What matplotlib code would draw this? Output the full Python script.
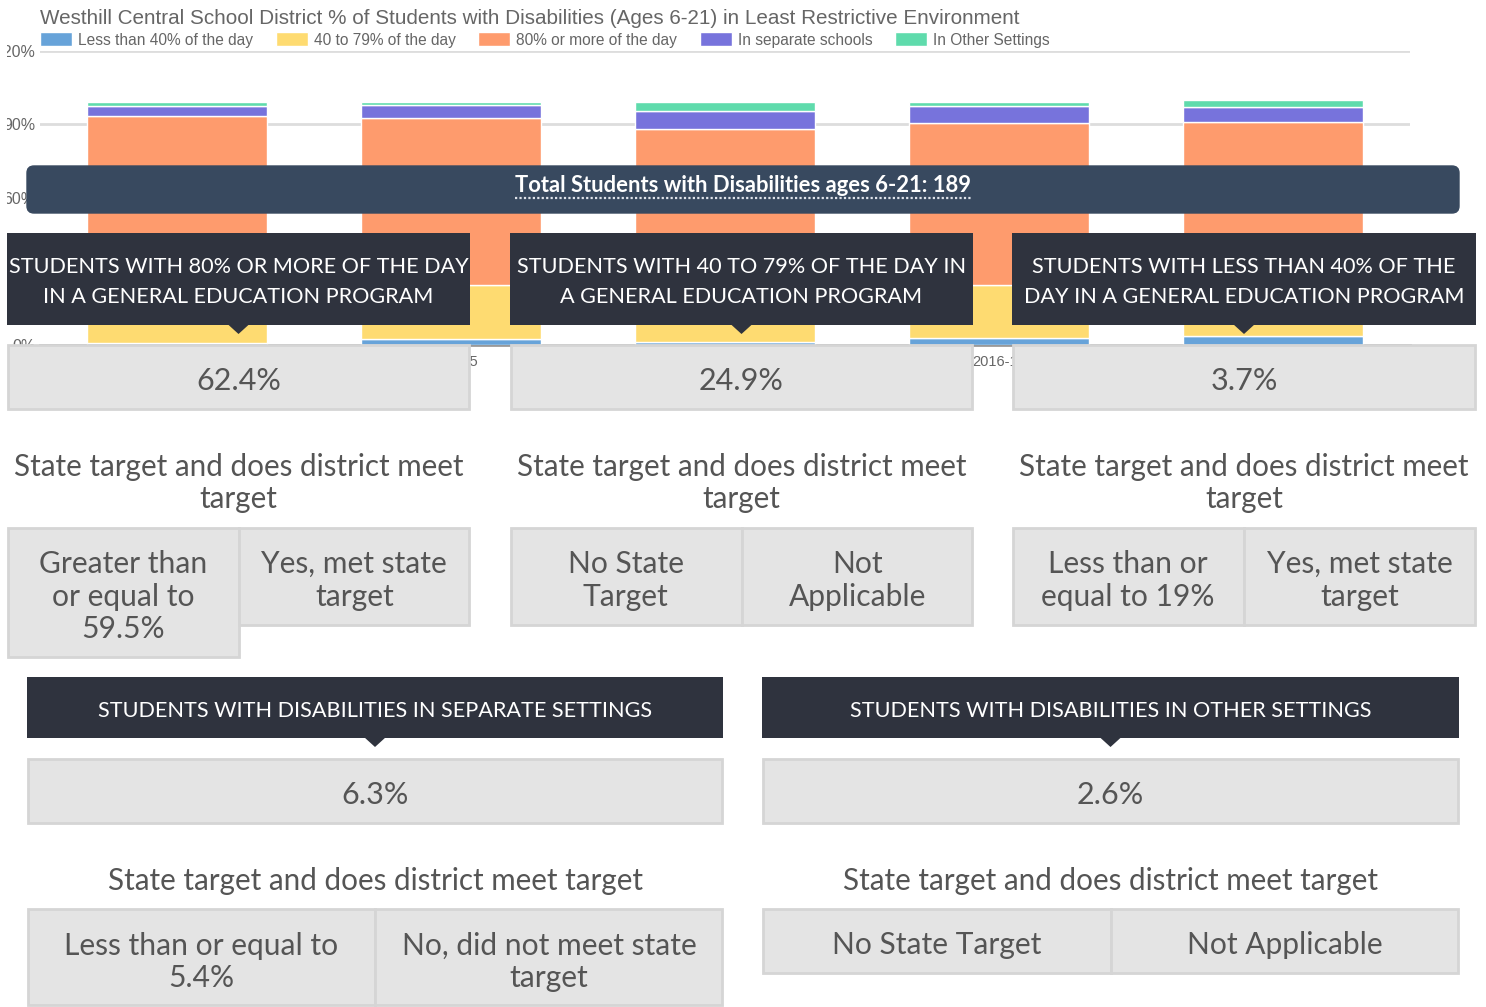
import matplotlib
matplotlib.use("Agg")
import matplotlib.pyplot as plt
import numpy as np
from matplotlib.patches import Rectangle, FancyBboxPatch, Polygon
from matplotlib.lines import Line2D
from matplotlib.transforms import Bbox, TransformedBbox

# ---------------- data ----------------
years = ['2013-14', '2014-15', '2015-16', '2016-17', '2017-18']
less_than_40 = [1.0, 2.5, 1.2, 2.9, 3.7]
pct_40_to_79 = [24.0, 22.0, 23.6, 21.6, 24.9]
pct_80_or_more = [68.5, 68.2, 63.4, 66.1, 62.4]
separate_schools = [4.1, 5.3, 7.3, 6.9, 6.3]
other_settings = [1.6, 1.2, 3.7, 1.7, 2.6]

series_names = ['Less than 40% of the day', '40 to 79% of the day',
                '80% or more of the day', 'In separate schools', 'In Other Settings']
series_colors = ['#67a3d9', '#fedb71', '#fe9b6d', '#7773dc', '#5fdbac']
y_ticks = [0, 30, 60, 90, 120]

chart_title = ('Westhill Central School District % of Students with Disabilities '
               '(Ages 6-21) in Least Restrictive Environment')
total_label = 'Total Students with Disabilities ages 6-21: 189'

top_headers = [['STUDENTS WITH 80% OR MORE OF THE DAY', 'IN A GENERAL EDUCATION PROGRAM'],
               ['STUDENTS WITH 40 TO 79% OF THE DAY IN', 'A GENERAL EDUCATION PROGRAM'],
               ['STUDENTS WITH LESS THAN 40% OF THE', 'DAY IN A GENERAL EDUCATION PROGRAM']]
top_values = ['62.4%', '24.9%', '3.7%']
top_targets = [['Greater than', 'or equal to', '59.5%'],
               ['No State', 'Target'],
               ['Less than or', 'equal to 19%']]
top_meets = [['Yes, met state', 'target'],
             ['Not', 'Applicable'],
             ['Yes, met state', 'target']]

bottom_headers = ['STUDENTS WITH DISABILITIES IN SEPARATE SETTINGS',
                  'STUDENTS WITH DISABILITIES IN OTHER SETTINGS']
bottom_values = ['6.3%', '2.6%']
bottom_targets = [['Less than or equal to', '5.4%'], ['No State Target']]
bottom_meets = [['No, did not meet state', 'target'], ['Not Applicable']]
target_heading = 'State target and does district meet target'

# ---------------- figure ----------------
W, H = 1486, 1007
fig = plt.figure(figsize=(W / 100, H / 100), dpi=100)
fig.patch.set_facecolor('white')

def fx(px):
    return px / W

def fy(py):
    return 1 - py / H

# chart axes: x 40..1410 px, y 51 (120%) .. 345 (0%)
ax = fig.add_axes([fx(40), fy(345), fx(1410) - fx(40), fy(51) - fy(345)])
x = np.arange(len(years))
series = [less_than_40, pct_40_to_79, pct_80_or_more, separate_schools, other_settings]
bottom = np.zeros(len(years))
handles = []
for vals, name, col in zip(series, series_names, series_colors):
    b = ax.bar(x, vals, width=0.655, bottom=bottom, color=col, edgecolor='white',
               linewidth=1.0, label=name, zorder=3)
    handles.append(b)
    bottom += np.array(vals)
ax.set_xlim(-0.5, len(years) - 0.5)
ax.set_ylim(0, 120)
ax.set_yticks(y_ticks)
ax.set_yticklabels([f'{t}%' for t in y_ticks], fontsize=11.5, color='#666666',
                   family='Liberation Sans')
ax.set_xticks(x)
ax.set_xticklabels(years, fontsize=10.5, color='#666666', family='Liberation Sans')
ax.tick_params(axis='both', length=0)
ax.tick_params(axis='y', pad=3)
ax.tick_params(axis='x', pad=7)
ax.grid(axis='y', color='#dddddd', linewidth=2.0)
ax.set_axisbelow(True)
for s in ['top', 'right', 'left']:
    ax.spines[s].set_visible(False)
ax.spines['bottom'].set_color('#999999')
ax.spines['bottom'].set_linewidth(2.0)
clip = TransformedBbox(Bbox([[7 / W, 0], [1, 1]]), fig.transFigure)
for lbl in ax.get_yticklabels():
    lbl.set_clip_box(clip)
    lbl.set_clip_on(True)

fig.text(fx(40), fy(19), chart_title, fontsize=14.9, color='#666666',
         family='Liberation Sans', ha='left', va='center')
fig.legend(handles=handles, labels=series_names, loc='center left',
           bbox_to_anchor=(fx(40), fy(40)), ncol=5, frameon=False,
           prop={'family': 'Liberation Sans', 'size': 11.2},
           labelcolor='#666666', handlelength=2.05, handleheight=1.0,
           handletextpad=0.4, columnspacing=1.45, borderpad=0, borderaxespad=0)

# ---------------- overlay ----------------
ov = fig.add_axes([0, 0, 1, 1], zorder=10)
ov.set_xlim(0, W)
ov.set_ylim(H, 0)
ov.axis('off')
ov.patch.set_alpha(0)

DARK = '#2f333e'
SLATE = '#38495f'
CELL = '#e4e4e4'
EDGE = '#d5d5d5'
TXT = '#555555'
LATO = 'Lato'
HDR = 15.6
BODY = 21.3
CELLF = 21.6
VAL = 22

def rect(x0, y0, x1, y1, fc, ec=None, lw=0):
    ov.add_patch(Rectangle((x0, y0), x1 - x0, y1 - y0, facecolor=fc,
                           edgecolor=ec if ec else fc, linewidth=lw))

def pointer(cx, ytop, half=11, depth=10):
    ov.add_patch(Polygon([(cx - half, ytop), (cx + half, ytop), (cx, ytop + depth)],
                         closed=True, facecolor=DARK, edgecolor=DARK, linewidth=0))

def lines(cx, ys, texts, **kw):
    for yy, t in zip(ys, texts):
        ov.text(cx, yy, t, ha='center', va='center', **kw)

# banner
ov.add_patch(FancyBboxPatch((27, 166), 1432, 47, boxstyle='round,pad=0,rounding_size=7',
                            facecolor=SLATE, edgecolor=SLATE))
ov.text(743, 185, total_label, ha='center', va='center', color='white',
        fontsize=15.8, fontweight='bold', family=LATO)
ov.add_line(Line2D([515, 971], [198, 198], color='#dfe3ea', linewidth=1.6,
                   linestyle=(0, (1, 1))))

# top three panels
top_boxes = [(7, 470), (510, 973), (1012, 1476)]
for i, (x0, x1) in enumerate(top_boxes):
    cx = (x0 + x1) / 2
    rect(x0, 233, x1, 325, DARK)
    pointer(cx, 324)
    lines(cx, [267, 297], top_headers[i], color='white', fontsize=HDR, family=LATO)
    rect(x0 + 1, 345, x1 - 1, 409, CELL, EDGE, 2)
    ov.text(cx, 381, top_values[i], ha='center', va='center', color=TXT,
            fontsize=VAL, family=LATO)
    lines(cx, [467, 499], ['State target and does district meet', 'target'],
          color=TXT, fontsize=BODY, family=LATO)
    xm = (x0 + x1) / 2
    tl = top_targets[i]
    hl = 657 if len(tl) > 2 else 625
    rect(x0 + 1, 528, xm, hl, CELL, EDGE, 2)
    rect(xm, 528, x1 - 1, 625, CELL, EDGE, 2)
    ys = [564, 597, 629]
    lines((x0 + xm) / 2, ys[:len(tl)], tl, color=TXT, fontsize=CELLF, family=LATO)
    lines((xm + x1) / 2, ys[:len(top_meets[i])], top_meets[i], color=TXT,
          fontsize=CELLF, family=LATO)

# bottom two panels
bot_boxes = [(27, 723), (762, 1459)]
for i, (x0, x1) in enumerate(bot_boxes):
    cx = (x0 + x1) / 2
    rect(x0, 677, x1, 738, DARK)
    pointer(cx, 737)
    ov.text(cx, 711, bottom_headers[i], ha='center', va='center', color='white',
            fontsize=HDR, family=LATO)
    rect(x0 + 1, 759, x1 - 1, 823, CELL, EDGE, 2)
    ov.text(cx, 795, bottom_values[i], ha='center', va='center', color=TXT,
            fontsize=VAL, family=LATO)
    ov.text(cx, 881, target_heading, ha='center', va='center', color=TXT,
            fontsize=BODY, family=LATO)
    xm = cx
    tl = bottom_targets[i]
    hb = 1005 if len(tl) > 1 else 973
    rect(x0 + 1, 909, xm, hb, CELL, EDGE, 2)
    rect(xm, 909, x1 - 1, hb, CELL, EDGE, 2)
    ys = [946, 978] if len(tl) > 1 else [945]
    lines((x0 + xm) / 2, ys, tl, color=TXT, fontsize=CELLF, family=LATO)
    lines((xm + x1) / 2, ys, bottom_meets[i], color=TXT, fontsize=CELLF, family=LATO)

fig.savefig('out.png', dpi=100, facecolor='white')
